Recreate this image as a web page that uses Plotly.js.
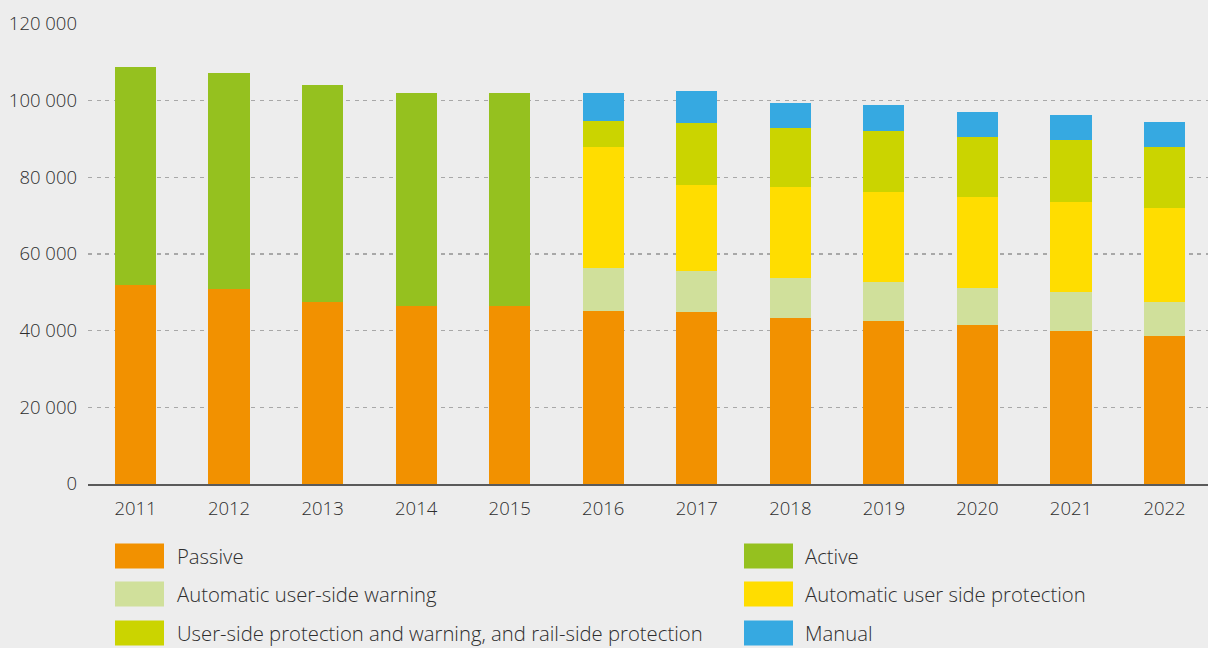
<!DOCTYPE html>
<html>
<head>
<meta charset="utf-8">
<script src="https://cdn.plot.ly/plotly-3.0.1.min.js"></script>
<style>
  html, body { margin: 0; padding: 0; background: #ededed; }
  #chart { width: 1208px; height: 648px; }
</style>
</head>
<body>
<div id="chart"></div>
<script>
// ---- Data ----
const years = ['2011','2012','2013','2014','2015','2016','2017','2018','2019','2020','2021','2022'];
const passive = [51800, 50800, 47500, 46400, 46400, 45100, 44800, 43300, 42500, 41400, 39800, 38500];
const active = [56900, 56300, 56500, 55700, 55700, null, null, null, null, null, null, null];
const autoUserSideWarning = [null, null, null, null, null, 11200, 10700, 10400, 10200, 9700, 10300, 9100];
const autoUserSideProtection = [null, null, null, null, null, 31500, 22400, 23700, 23400, 23900, 23400, 24500];
const userSideProtWarnRailSide = [null, null, null, null, null, 6800, 16400, 15600, 15900, 15600, 16200, 15900];
const manual = [null, null, null, null, null, 7500, 8100, 6500, 6800, 6500, 6500, 6500];
const yTickValues = [0, 20000, 40000, 60000, 80000, 100000, 120000];

const seriesNames = ['Passive', 'Active', 'Automatic user-side warning', 'Automatic user side protection',
  'User-side protection and warning, and rail-side protection', 'Manual'];
const seriesValues = [passive, active, autoUserSideWarning, autoUserSideProtection, userSideProtWarnRailSide, manual];
const seriesColors = ['#F29100', '#95C11F', '#D0E09B', '#FFDD00', '#CBD400', '#36A9E1'];

// legend layout: [series index, column, row]
const legendSlots = [[0,0,0],[2,0,1],[4,0,2],[1,1,0],[3,1,1],[5,1,2]];

// ---- Geometry ----
const W = 1208, H = 648;
const M = {l: 88, r: 0, t: 24, b: 164};
const PW = W - M.l - M.r, PH = H - M.t - M.b;
const px2x = px => (px - M.l) / PW;
const py2y = py => (M.t + PH - py) / PH;

const FONT = '"Open Sans", "Noto Sans", sans-serif';
const TXT = '#2e2e2e';

const traces = seriesNames.map((name, i) => ({
  type: 'bar',
  name: name,
  x: years,
  y: seriesValues[i],
  marker: {color: seriesColors[i], line: {width: 0}},
  hoverinfo: 'x+y+name'
}));

const colSwatchX = [115, 744];
const colTextX = [175, 803];
const rowY = [556, 594, 633];
const shapes = [];
const annotations = [];
legendSlots.forEach(([si, c, r]) => {
  shapes.push({
    type: 'rect', xref: 'paper', yref: 'paper',
    x0: px2x(colSwatchX[c]), x1: px2x(colSwatchX[c] + 49),
    y0: py2y(rowY[r] + 12.5), y1: py2y(rowY[r] - 12.5),
    fillcolor: seriesColors[si], line: {width: 0}
  });
  annotations.push({
    xref: 'paper', yref: 'paper',
    x: px2x(colTextX[c]), y: py2y(rowY[r]),
    xanchor: 'left', yanchor: 'middle',
    text: seriesNames[si], showarrow: false,
    font: {family: FONT, size: 20.3, color: TXT, weight: 300}
  });
});

const layout = {
  width: W, height: H,
  margin: M,
  paper_bgcolor: '#ededed',
  plot_bgcolor: '#ededed',
  barmode: 'stack',
  bargap: 0.56,
  showlegend: false,
  separators: '. ',
  font: {family: FONT, size: 18, color: TXT, weight: 300},
  xaxis: {
    type: 'category',
    range: [-0.508, 11.465],
    showgrid: false,
    showline: true,
    linecolor: '#5a5a5a',
    linewidth: 1.6,
    ticks: '',
    ticklabelstandoff: 7,
    tickfont: {family: FONT, size: 18.5, color: TXT, weight: 300},
    zeroline: false
  },
  yaxis: {
    range: [0, 120000],
    tickvals: yTickValues,
    tickformat: ',d',
    showgrid: true,
    gridcolor: '#a8a8a8',
    gridwidth: 1.3,
    griddash: '4px,4.6px',
    zeroline: false,
    showline: false,
    ticks: '',
    ticklabelstandoff: 10,
    tickfont: {family: FONT, size: 18.5, color: TXT, weight: 300}
  },
  shapes: shapes,
  annotations: annotations
};

Plotly.newPlot('chart', traces, layout, {displayModeBar: false, staticPlot: true});
</script>
</body>
</html>
